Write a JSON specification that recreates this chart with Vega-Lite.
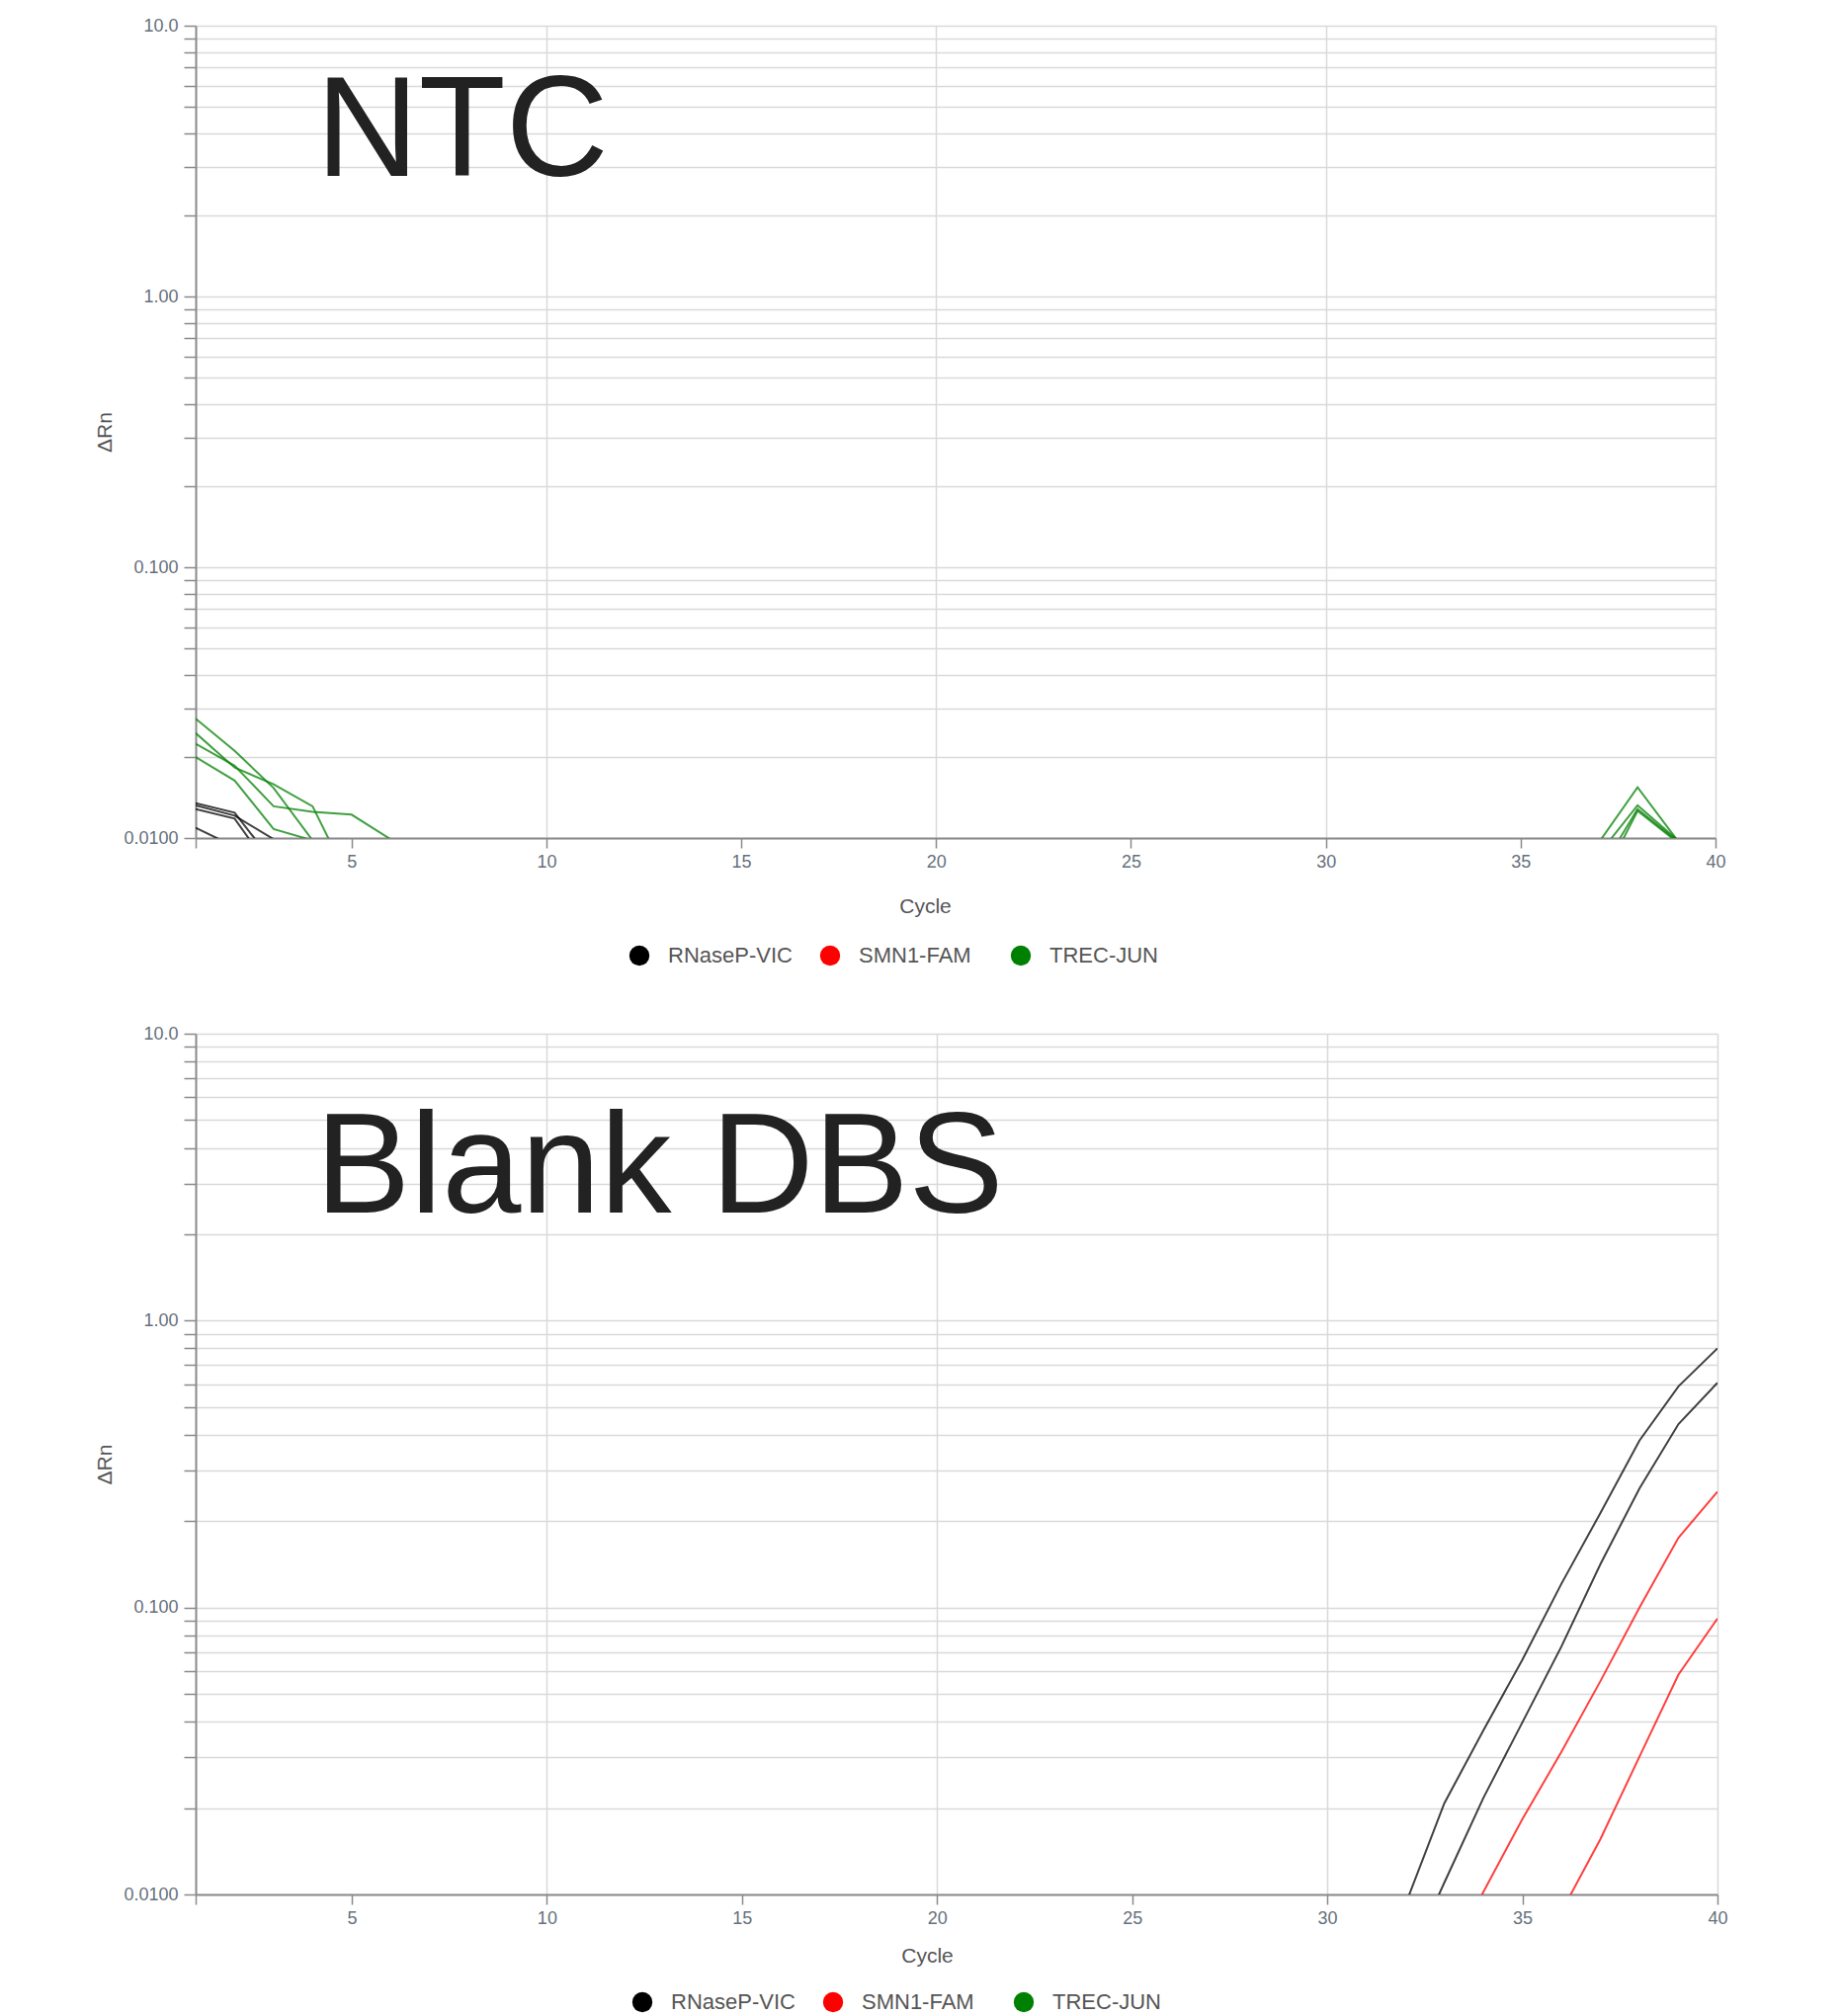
{
  "$schema": "https://vega.github.io/schema/vega-lite/v6.json",
  "background": "white",
  "padding": {"left": 95, "top": 17, "right": 20, "bottom": 5},
  "spacing": 59,
  "datasets": {
    "ntc": [
      {"well": "G1", "target": "TREC-JUN", "cycle": 1, "dRn": 0.0276},
      {"well": "G1", "target": "TREC-JUN", "cycle": 2, "dRn": 0.0210},
      {"well": "G1", "target": "TREC-JUN", "cycle": 3, "dRn": 0.0153},
      {"well": "G1", "target": "TREC-JUN", "cycle": 4, "dRn": 0.0098},
      {"well": "G1", "target": "TREC-JUN", "cycle": 5, "dRn": 0.0062},
      {"well": "G2", "target": "TREC-JUN", "cycle": 1, "dRn": 0.0244},
      {"well": "G2", "target": "TREC-JUN", "cycle": 2, "dRn": 0.0182},
      {"well": "G2", "target": "TREC-JUN", "cycle": 3, "dRn": 0.0158},
      {"well": "G2", "target": "TREC-JUN", "cycle": 4, "dRn": 0.0131},
      {"well": "G2", "target": "TREC-JUN", "cycle": 5, "dRn": 0.0067},
      {"well": "G3", "target": "TREC-JUN", "cycle": 1, "dRn": 0.0223},
      {"well": "G3", "target": "TREC-JUN", "cycle": 2, "dRn": 0.0185},
      {"well": "G3", "target": "TREC-JUN", "cycle": 3, "dRn": 0.0131},
      {"well": "G3", "target": "TREC-JUN", "cycle": 4, "dRn": 0.0125},
      {"well": "G3", "target": "TREC-JUN", "cycle": 5, "dRn": 0.0122},
      {"well": "G3", "target": "TREC-JUN", "cycle": 6, "dRn": 0.0099},
      {"well": "G3", "target": "TREC-JUN", "cycle": 7, "dRn": 0.0060},
      {"well": "G4", "target": "TREC-JUN", "cycle": 1, "dRn": 0.0199},
      {"well": "G4", "target": "TREC-JUN", "cycle": 2, "dRn": 0.0163},
      {"well": "G4", "target": "TREC-JUN", "cycle": 3, "dRn": 0.0108},
      {"well": "G4", "target": "TREC-JUN", "cycle": 4, "dRn": 0.0098},
      {"well": "G4", "target": "TREC-JUN", "cycle": 5, "dRn": 0.0060},
      {"well": "G1-late", "target": "TREC-JUN", "cycle": 37, "dRn": 0.0096},
      {"well": "G1-late", "target": "TREC-JUN", "cycle": 38, "dRn": 0.0154},
      {"well": "G1-late", "target": "TREC-JUN", "cycle": 39, "dRn": 0.0099},
      {"well": "G1-late", "target": "TREC-JUN", "cycle": 40, "dRn": 0.0062},
      {"well": "G2-late", "target": "TREC-JUN", "cycle": 37, "dRn": 0.0087},
      {"well": "G2-late", "target": "TREC-JUN", "cycle": 38, "dRn": 0.0132},
      {"well": "G2-late", "target": "TREC-JUN", "cycle": 39, "dRn": 0.0099},
      {"well": "G2-late", "target": "TREC-JUN", "cycle": 40, "dRn": 0.0062},
      {"well": "G3-late", "target": "TREC-JUN", "cycle": 37, "dRn": 0.0074},
      {"well": "G3-late", "target": "TREC-JUN", "cycle": 38, "dRn": 0.0128},
      {"well": "G3-late", "target": "TREC-JUN", "cycle": 39, "dRn": 0.0098},
      {"well": "G3-late", "target": "TREC-JUN", "cycle": 40, "dRn": 0.0060},
      {"well": "G4-late", "target": "TREC-JUN", "cycle": 37, "dRn": 0.0066},
      {"well": "G4-late", "target": "TREC-JUN", "cycle": 38, "dRn": 0.0126},
      {"well": "G4-late", "target": "TREC-JUN", "cycle": 39, "dRn": 0.0097},
      {"well": "G4-late", "target": "TREC-JUN", "cycle": 40, "dRn": 0.0060},
      {"well": "K1", "target": "RNaseP-VIC", "cycle": 1, "dRn": 0.01345},
      {"well": "K1", "target": "RNaseP-VIC", "cycle": 2, "dRn": 0.0124},
      {"well": "K1", "target": "RNaseP-VIC", "cycle": 3, "dRn": 0.0081},
      {"well": "K2", "target": "RNaseP-VIC", "cycle": 1, "dRn": 0.0132},
      {"well": "K2", "target": "RNaseP-VIC", "cycle": 2, "dRn": 0.0121},
      {"well": "K2", "target": "RNaseP-VIC", "cycle": 3, "dRn": 0.0099},
      {"well": "K2", "target": "RNaseP-VIC", "cycle": 4, "dRn": 0.0060},
      {"well": "K3", "target": "RNaseP-VIC", "cycle": 1, "dRn": 0.0128},
      {"well": "K3", "target": "RNaseP-VIC", "cycle": 2, "dRn": 0.0118},
      {"well": "K3", "target": "RNaseP-VIC", "cycle": 3, "dRn": 0.0074},
      {"well": "K4", "target": "RNaseP-VIC", "cycle": 1, "dRn": 0.0109},
      {"well": "K4", "target": "RNaseP-VIC", "cycle": 2, "dRn": 0.0093}
    ],
    "blank": [
      {"well": "B1", "target": "RNaseP-VIC", "cycle": 32, "dRn": 0.0092},
      {"well": "B1", "target": "RNaseP-VIC", "cycle": 33, "dRn": 0.0208},
      {"well": "B1", "target": "RNaseP-VIC", "cycle": 34, "dRn": 0.0373},
      {"well": "B1", "target": "RNaseP-VIC", "cycle": 35, "dRn": 0.0658},
      {"well": "B1", "target": "RNaseP-VIC", "cycle": 36, "dRn": 0.121},
      {"well": "B1", "target": "RNaseP-VIC", "cycle": 37, "dRn": 0.2135},
      {"well": "B1", "target": "RNaseP-VIC", "cycle": 38, "dRn": 0.382},
      {"well": "B1", "target": "RNaseP-VIC", "cycle": 39, "dRn": 0.590},
      {"well": "B1", "target": "RNaseP-VIC", "cycle": 40, "dRn": 0.800},
      {"well": "B2", "target": "RNaseP-VIC", "cycle": 32, "dRn": 0.0055},
      {"well": "B2", "target": "RNaseP-VIC", "cycle": 33, "dRn": 0.0110},
      {"well": "B2", "target": "RNaseP-VIC", "cycle": 34, "dRn": 0.0217},
      {"well": "B2", "target": "RNaseP-VIC", "cycle": 35, "dRn": 0.0398},
      {"well": "B2", "target": "RNaseP-VIC", "cycle": 36, "dRn": 0.0731},
      {"well": "B2", "target": "RNaseP-VIC", "cycle": 37, "dRn": 0.1417},
      {"well": "B2", "target": "RNaseP-VIC", "cycle": 38, "dRn": 0.260},
      {"well": "B2", "target": "RNaseP-VIC", "cycle": 39, "dRn": 0.436},
      {"well": "B2", "target": "RNaseP-VIC", "cycle": 40, "dRn": 0.607},
      {"well": "R1", "target": "SMN1-FAM", "cycle": 33, "dRn": 0.0055},
      {"well": "R1", "target": "SMN1-FAM", "cycle": 34, "dRn": 0.0102},
      {"well": "R1", "target": "SMN1-FAM", "cycle": 35, "dRn": 0.0183},
      {"well": "R1", "target": "SMN1-FAM", "cycle": 36, "dRn": 0.0314},
      {"well": "R1", "target": "SMN1-FAM", "cycle": 37, "dRn": 0.0554},
      {"well": "R1", "target": "SMN1-FAM", "cycle": 38, "dRn": 0.100},
      {"well": "R1", "target": "SMN1-FAM", "cycle": 39, "dRn": 0.175},
      {"well": "R1", "target": "SMN1-FAM", "cycle": 40, "dRn": 0.2535},
      {"well": "R2", "target": "SMN1-FAM", "cycle": 36, "dRn": 0.0087},
      {"well": "R2", "target": "SMN1-FAM", "cycle": 37, "dRn": 0.0156},
      {"well": "R2", "target": "SMN1-FAM", "cycle": 38, "dRn": 0.0302},
      {"well": "R2", "target": "SMN1-FAM", "cycle": 39, "dRn": 0.0584},
      {"well": "R2", "target": "SMN1-FAM", "cycle": 40, "dRn": 0.0916}
    ]
  },
  "vconcat": [
    {
      "width": 1538,
      "height": 822,
      "layer": [
        {
          "data": {"name": "ntc"},
          "mark": {"type": "line", "clip": true, "strokeWidth": 2, "strokeOpacity": 0.75},
          "encoding": {
            "x": {
              "field": "cycle", "type": "quantitative",
              "scale": {"domain": [1, 40], "nice": false, "zero": false},
              "axis": {
                "title": "Cycle", "titleX": 738, "titlePadding": 25,
                "values": [1, 5, 10, 15, 20, 25, 30, 35, 40],
                "labelExpr": "datum.value == 1 ? '' : datum.label",
                "gridOpacity": {"condition": {"test": "datum.value % 10 == 0", "value": 1}, "value": 0}
              }
            },
            "y": {
              "field": "dRn", "type": "quantitative",
              "scale": {"type": "log", "domain": [0.01, 10], "nice": false},
              "axis": {
                "title": "ΔRn",
                "values": [0.01, 0.02, 0.03, 0.04, 0.05, 0.06, 0.07, 0.08, 0.09, 0.1, 0.2, 0.3, 0.4, 0.5, 0.6, 0.7, 0.8, 0.9, 1, 2, 3, 4, 5, 6, 7, 8, 9, 10],
                "labelExpr": "(datum.value == 0.01 || datum.value == 0.1 || datum.value == 1 || datum.value == 10) ? format(datum.value, '.3r') : ''"
              }
            },
            "color": {
              "field": "target", "type": "nominal",
              "scale": {"domain": ["RNaseP-VIC", "SMN1-FAM", "TREC-JUN"], "range": ["#000000", "#ff0000", "#008000"]},
              "legend": {
                "legendX": 438, "legendY": 930,
                "encode": {"symbols": {"update": {
                  "fill": {"signal": "datum.value == 'RNaseP-VIC' ? '#000000' : (datum.value == 'SMN1-FAM' ? '#ff0000' : '#008000')"},
                  "fillOpacity": {"value": 1},
                  "strokeWidth": {"value": 0},
                  "opacity": {"value": 1}
                }}}
              }
            },
            "detail": {"field": "well"}
          }
        },
        {
          "data": {"values": [{}]},
          "mark": {"type": "text", "font": "Liberation Sans", "fontSize": 144, "align": "left", "baseline": "alphabetic", "color": "#222222"},
          "encoding": {
            "x": {"datum": 4.09, "type": "quantitative"},
            "y": {"datum": 2.795, "type": "quantitative"},
            "text": {"value": "NTC"}
          }
        }
      ]
    },
    {
      "width": 1540,
      "height": 871,
      "layer": [
        {
          "data": {"name": "blank"},
          "mark": {"type": "line", "clip": true, "strokeWidth": 2, "strokeOpacity": 0.75},
          "encoding": {
            "x": {
              "field": "cycle", "type": "quantitative",
              "scale": {"domain": [1, 40], "nice": false, "zero": false},
              "axis": {
                "title": "Cycle", "titleX": 740, "titlePadding": 18,
                "values": [1, 5, 10, 15, 20, 25, 30, 35, 40],
                "labelExpr": "datum.value == 1 ? '' : datum.label",
                "gridOpacity": {"condition": {"test": "datum.value % 10 == 0", "value": 1}, "value": 0}
              }
            },
            "y": {
              "field": "dRn", "type": "quantitative",
              "scale": {"type": "log", "domain": [0.01, 10], "nice": false},
              "axis": {
                "title": "ΔRn",
                "values": [0.01, 0.02, 0.03, 0.04, 0.05, 0.06, 0.07, 0.08, 0.09, 0.1, 0.2, 0.3, 0.4, 0.5, 0.6, 0.7, 0.8, 0.9, 1, 2, 3, 4, 5, 6, 7, 8, 9, 10],
                "labelExpr": "(datum.value == 0.01 || datum.value == 0.1 || datum.value == 1 || datum.value == 10) ? format(datum.value, '.3r') : ''"
              }
            },
            "color": {
              "field": "target", "type": "nominal",
              "scale": {"domain": ["RNaseP-VIC", "SMN1-FAM", "TREC-JUN"], "range": ["#000000", "#ff0000", "#008000"]},
              "legend": {
                "legendX": 441, "legendY": 969,
                "encode": {"symbols": {"update": {
                  "fill": {"signal": "datum.value == 'RNaseP-VIC' ? '#000000' : (datum.value == 'SMN1-FAM' ? '#ff0000' : '#008000')"},
                  "fillOpacity": {"value": 1},
                  "strokeWidth": {"value": 0},
                  "opacity": {"value": 1}
                }}}
              }
            },
            "detail": {"field": "well"}
          }
        },
        {
          "data": {"values": [{}]},
          "mark": {"type": "text", "font": "Liberation Sans", "fontSize": 144, "align": "left", "baseline": "alphabetic", "color": "#222222"},
          "encoding": {
            "x": {"datum": 4.07, "type": "quantitative"},
            "y": {"datum": 2.379, "type": "quantitative"},
            "text": {"value": "Blank DBS"}
          }
        }
      ]
    }
  ],
  "resolve": {
    "scale": {"color": "independent", "x": "independent", "y": "independent"},
    "legend": {"color": "independent"}
  },
  "config": {
    "font": "Liberation Sans",
    "view": {"stroke": null},
    "axis": {
      "domainColor": "#8a8a8a",
      "domainWidth": 2,
      "tickColor": "#8a8a8a",
      "tickWidth": 1.5,
      "gridColor": "#d9d9d9",
      "gridWidth": 1.5,
      "labelColor": "#66707c",
      "labelFontSize": 18,
      "labelOverlap": false,
      "labelFlush": false,
      "titleColor": "#555555",
      "titleFontWeight": "normal",
      "titleFontSize": 21
    },
    "axisX": {
      "grid": true,
      "tickSize": 10,
      "labelPadding": 5
    },
    "axisY": {
      "grid": true,
      "tickSize": 12,
      "labelPadding": 6,
      "titlePadding": 8
    },
    "legend": {
      "orient": "none",
      "direction": "horizontal",
      "title": null,
      "symbolType": "circle",
      "symbolSize": 415,
      "symbolStrokeWidth": 0,
      "labelFontSize": 22,
      "labelColor": "#555555",
      "labelOffset": 18,
      "columnPadding": 27,
      "gridAlign": "all",
      "columns": 3,
      "symbolOpacity": 1,
      "labelOpacity": 1
    }
  }
}
